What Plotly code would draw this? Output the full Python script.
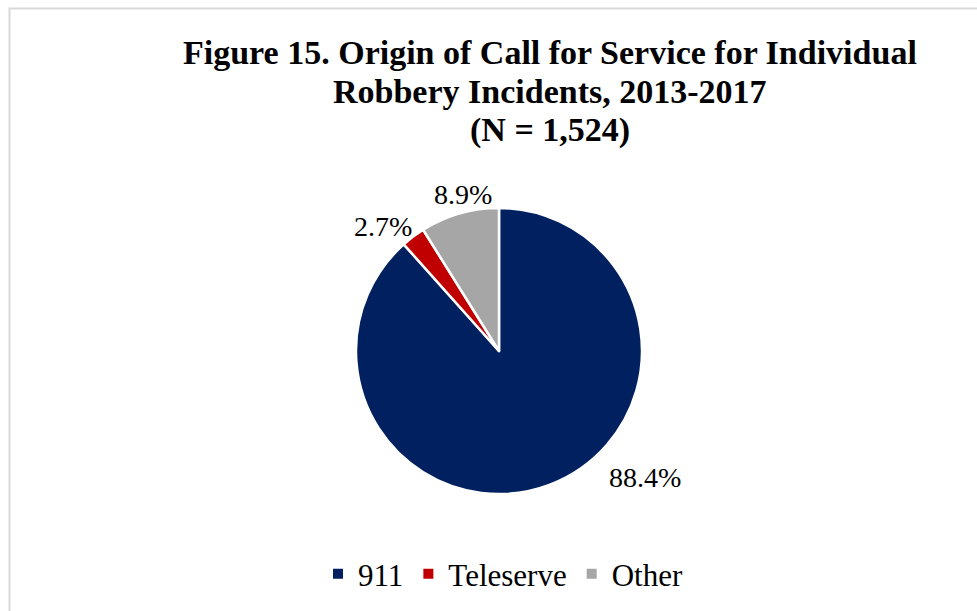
import math
import plotly.graph_objects as go

categories = ["911", "Teleserve", "Other"]
values = [88.4, 2.7, 8.9]
colors = ["#002060", "#C00000", "#A6A6A6"]
title_lines = ["Figure 15. Origin of Call for Service for Individual",
               "Robbery Incidents, 2013-2017",
               "(N = 1,524)"]

W, H = 977, 611
cx, cy, r = 499, 351, 143
FONT = "Liberation Serif, Times New Roman, serif"

# label placement (angle clockwise from 12 o'clock in degrees, radius in px)
label_angle = [131, 317, 347]
label_radius = [193, 170, 161]
title_centers = [52, 91, 130]

fig = go.Figure(go.Pie(
    labels=categories,
    values=values,
    sort=False,
    direction="clockwise",
    rotation=0,
    marker=dict(colors=colors, line=dict(color="white", width=2.5)),
    textinfo="none",
    domain=dict(x=[(cx - r) / W, (cx + r) / W], y=[1 - (cy + r) / H, 1 - (cy - r) / H]),
    hoverinfo="label+value",
))

annotations = []
total = sum(values)
for v, a, rad in zip(values, label_angle, label_radius):
    th = math.radians(a)
    px = cx + rad * math.sin(th)
    py = cy - rad * math.cos(th)
    annotations.append(dict(
        text=f"{v / total * 100:.1f}%", x=px / W, y=1 - py / H,
        xref="paper", yref="paper", showarrow=False,
        xanchor="center", yanchor="middle",
        font=dict(family=FONT, size=28, color="black"),
    ))

for line, yc in zip(title_lines, title_centers):
    annotations.append(dict(
        text=f"<b>{line}</b>", x=550 / W, y=1 - yc / H,
        xref="paper", yref="paper", showarrow=False,
        xanchor="center", yanchor="middle",
        font=dict(family=FONT, size=34, color="black"),
    ))

fig.update_layout(
    width=W, height=H,
    margin=dict(l=0, r=0, t=0, b=0),
    paper_bgcolor="white",
    plot_bgcolor="white",
    legend=dict(
        orientation="h",
        x=503 / W, xanchor="center",
        y=1 - 574 / H, yanchor="middle",
        font=dict(family=FONT, size=31, color="black"),
        itemsizing="constant",
        itemwidth=30,
    ),
    annotations=annotations,
    shapes=[dict(type="rect", xref="paper", yref="paper",
                 x0=9.5 / W, x1=1.02, y0=-0.02, y1=1 - 8.5 / H,
                 line=dict(color="#D9D9D9", width=2), fillcolor="rgba(0,0,0,0)")],
)

fig.write_html("out.html")
